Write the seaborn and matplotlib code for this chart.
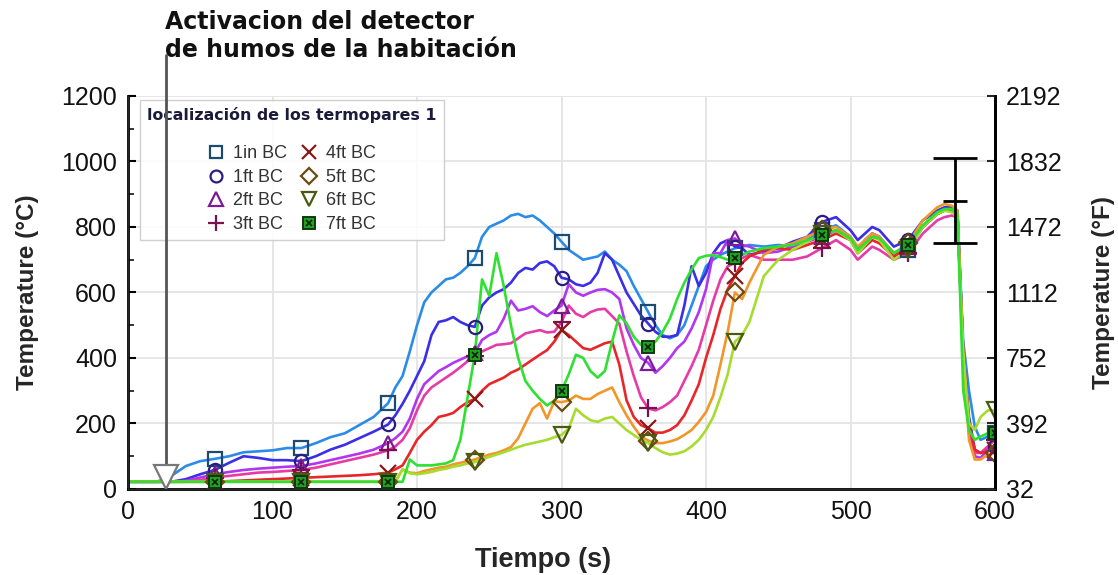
import numpy as np
import pandas as pd
import matplotlib
matplotlib.use("Agg")
import matplotlib.pyplot as plt
import seaborn as sns
from matplotlib.lines import Line2D
from matplotlib.ticker import MultipleLocator

# ---------------- data ----------------
time_s = [0, 10, 20, 30, 40, 50, 60, 70, 80, 90, 100, 110, 120, 130, 140, 150, 160, 170, 180,
          185, 190, 195, 200, 205, 210, 215, 220, 225, 230, 235, 240, 245, 250, 255, 260, 265, 270, 275, 280,
          285, 290, 295, 300, 305, 310, 315, 320, 325, 330, 335, 340, 345, 350, 355, 360, 365, 370, 375, 380,
          385, 390, 395, 400, 405, 410, 415, 420, 425, 430,
          440, 450, 460, 470, 480, 490, 500,
          505, 510, 515, 520,
          530, 540, 550, 560,
          565, 570, 574, 578, 582, 586, 590, 595, 600]

t_1in = [22, 22, 22, 40, 70, 85, 92, 100, 112, 115, 118, 125, 125, 140, 158, 170, 195, 220, 262,
         310, 345, 420, 500, 570, 600, 620, 640, 645, 660, 680, 705, 770, 800, 810, 820, 835, 840, 830, 835,
         820, 800, 780, 755, 730, 715, 700, 705, 710, 725, 700, 685, 665, 620, 580, 540, 500, 470, 460, 470,
         500, 560, 620, 680, 700, 715, 725, 735, 740, 745,
         740, 745, 740, 760, 790, 805, 770,
         735, 760, 780, 770,
         720, 730, 800, 840,
         850, 850, 840, 450, 300, 190, 150, 160, 170]

t_1ft = [22, 22, 22, 22, 30, 45, 58, 80, 100, 95, 88, 88, 85, 100, 120, 135, 155, 175, 197,
         225, 260, 300, 345, 390, 470, 510, 515, 525, 510, 500, 495, 560, 585, 600, 610, 630, 660, 675, 670,
         690, 695, 680, 645, 640, 625, 620, 630, 660, 720, 700, 650, 600, 565, 530, 505, 480, 465, 465, 470,
         560, 680, 620, 660, 720, 750, 760, 740, 735, 715,
         725, 735, 755, 770, 815, 830, 790,
         760, 780, 800, 790,
         740, 760, 820, 850,
         860, 860, 850, 420, 220, 120, 110, 120, 130]

t_2ft = [22, 22, 22, 22, 25, 35, 45, 52, 58, 62, 65, 68, 70, 78, 88, 98, 108, 120, 140,
         155, 175, 215, 275, 320, 340, 360, 372, 385, 395, 405, 415, 455, 470, 480, 520, 575, 545, 550, 558,
         540, 528, 545, 560, 625, 600, 590, 600, 608, 610, 600, 580, 490, 440, 400, 385, 355, 375, 400, 430,
         450, 490, 540, 610, 720, 720, 760, 765, 745, 740,
         720, 725, 740, 755, 770, 790, 770,
         730, 760, 780, 770,
         710, 740, 800, 840,
         850, 850, 840, 400, 200, 100, 95, 120, 110]

t_3ft = [22, 22, 22, 22, 22, 28, 35, 40, 45, 50, 52, 55, 58, 65, 75, 85, 95, 105, 118,
         130, 150, 185, 240, 285, 310, 325, 340, 355, 372, 390, 405, 420, 430, 440, 442, 445, 460, 475, 480,
         485, 478, 480, 510, 560, 535, 525, 540, 548, 550, 528, 505, 420, 345, 280, 246, 240, 250, 265, 285,
         330, 375, 425, 500, 575, 640, 680, 690, 705, 715,
         700, 700, 700, 710, 735, 760, 730,
         700, 720, 740, 730,
         700, 720, 780, 820,
         830, 835, 830, 380, 180, 110, 110, 130, 150]

t_4ft = [22, 22, 22, 22, 22, 22, 22, 24, 26, 28, 30, 32, 34, 36, 38, 40, 42, 45, 50,
         60, 72, 110, 150, 175, 195, 220, 225, 232, 250, 265, 275, 300, 320, 330, 340, 355, 365, 380, 395,
         410, 424, 450, 485, 470, 450, 430, 425, 435, 445, 450, 380, 271, 220, 195, 185, 172, 172, 180, 195,
         225, 270, 320, 400, 470, 550, 610, 650, 690, 710,
         730, 735, 730, 745, 760, 780, 760,
         720, 740, 760, 750,
         710, 740, 800, 840,
         850, 850, 840, 420, 200, 120, 110, 115, 120]

t_5ft = [22, 22, 22, 22, 22, 22, 22, 22, 22, 22, 22, 22, 22, 22, 22, 22, 22, 22, 22,
         22, 60, 50, 48, 55, 60, 65, 68, 75, 80, 85, 90, 98, 105, 110, 118, 128, 155, 200, 245,
         262, 215, 268, 265, 270, 285, 275, 275, 290, 300, 310, 265, 225, 190, 160, 148, 140, 140, 145, 152,
         165, 180, 205, 235, 285, 380, 480, 600, 580, 630,
         715, 740, 750, 770, 790, 800, 770,
         740, 760, 780, 770,
         720, 750, 820, 860,
         870, 865, 850, 400, 150, 90, 90, 105, 110]

t_6ft = [22, 22, 22, 22, 22, 22, 22, 22, 22, 22, 22, 22, 22, 22, 22, 22, 22, 22, 22,
         22, 60, 48, 45, 48, 52, 58, 62, 68, 72, 78, 82, 90, 98, 105, 112, 120, 128, 135, 140,
         145, 150, 158, 165, 185, 245, 225, 210, 205, 215, 220, 200, 180, 165, 150, 140, 125, 112, 105, 108,
         115, 130, 150, 180, 220, 280, 350, 450, 470, 510,
         650, 700, 730, 755, 780, 790, 760,
         720, 745, 770, 760,
         700, 730, 800, 840,
         850, 845, 830, 420, 200, 180, 220, 240, 240]

t_7ft = [22, 22, 22, 22, 22, 22, 22, 22, 22, 22, 22, 22, 22, 22, 22, 22, 22, 22, 22,
         22, 22, 90, 72, 72, 72, 75, 78, 88, 150, 280, 410, 640, 590, 720, 620, 500, 400, 330, 300,
         275, 255, 270, 300, 350, 410, 400, 360, 340, 360, 450, 530, 506, 465, 440, 432, 450, 480, 520, 580,
         630, 670, 705, 712, 714, 708, 700, 704, 715, 725,
         735, 740, 745, 760, 775, 790, 765,
         730, 750, 770, 765,
         720, 745, 805, 845,
         855, 855, 840, 300, 180, 150, 160, 170, 170]

series_names = ["1in BC", "1ft BC", "2ft BC", "3ft BC", "4ft BC", "5ft BC", "6ft BC", "7ft BC"]
series_values = [t_1in, t_1ft, t_2ft, t_3ft, t_4ft, t_5ft, t_6ft, t_7ft]
marker_times = [60, 120, 180, 240, 300, 360, 420, 480, 540, 600]

x_ticks = [0, 100, 200, 300, 400, 500, 600]
y_ticks_c = [0, 200, 400, 600, 800, 1000, 1200]
y_ticks_f = [32, 392, 752, 1112, 1472, 1832, 2192]

detector_time = 26
detector_temp = 38
errbar_time = 572
errbar_center = 880
errbar_half = 130

# ---------------- styles ----------------
line_colors = ["#2b8ce8", "#3a2ee8", "#b236f0", "#e63aa8", "#e8262a", "#f0962a", "#a6dc2e", "#2ee030"]
marker_shapes = ["s", "o", "^", "+", "x", "D", "v", "s"]
marker_edges = ["#1d4a70", "#2a1c80", "#7a1c9a", "#7a1050", "#8a1818", "#6a4a10", "#4a5a10", "#0e3a0e"]
marker_sizes = [9.5, 9.5, 10.5, 13, 11, 9, 11, 9]

for name, vals in zip(series_names, series_values):
    assert len(vals) == len(time_s), (name, len(vals), len(time_s))

sns.set_style("white")
plt.rcParams["font.family"] = ["Liberation Sans", "DejaVu Sans"]

df = pd.DataFrame({
    "Tiempo": np.tile(time_s, len(series_names)),
    "Temp": np.concatenate(series_values),
    "Serie": np.repeat(series_names, len(time_s)),
})

fig = plt.figure(figsize=(11.18, 5.75), dpi=100)
ax = fig.add_axes([0.1145, 0.1496, 0.7755, 0.6835])

sns.lineplot(data=df, x="Tiempo", y="Temp", hue="Serie", hue_order=series_names,
             palette=dict(zip(series_names, line_colors)), estimator=None, sort=False,
             linewidth=1.9, legend=False, ax=ax)

# markers
for i, name in enumerate(series_names):
    sub = df[(df["Serie"] == name) & (df["Tiempo"].isin(marker_times))]
    if i == 7:
        ax.plot(sub["Tiempo"], sub["Temp"], ls="none", marker="s", ms=marker_sizes[i],
                mfc="#22a022", mec=marker_edges[i], mew=1.4, zorder=5)
        ax.plot(sub["Tiempo"], sub["Temp"], ls="none", marker="x", ms=5,
                mec="#0a200a", mew=1.2, zorder=6)
    else:
        ax.plot(sub["Tiempo"], sub["Temp"], ls="none", marker=marker_shapes[i], ms=marker_sizes[i],
                mfc="none", mec=marker_edges[i], mew=1.6, zorder=5)

# detector annotation
ax.axvline(detector_time, ymin=detector_temp / 1200 + 0.02, ymax=1.104, color="#555555", lw=2,
           clip_on=False, zorder=7)
ax.plot([detector_time], [detector_temp], ls="none", marker="v", ms=17, mfc="white",
        mec="#777777", mew=1.6, clip_on=False, zorder=8)
fig.text(165 / 1118, 1 - 10 / 575, "Activacion del detector\nde humos de la habitación",
         ha="left", va="top", fontsize=17, fontweight="bold", family="DejaVu Sans",
         color="#111111", linespacing=1.2)

# error bar
ax.errorbar([errbar_time], [errbar_center], yerr=[[errbar_half], [errbar_half]], fmt="_",
            color="black", ms=17, mew=2, elinewidth=2, capsize=16, capthick=2, zorder=9)

# axes
ax.set_xlim(0, 600)
ax.set_ylim(0, 1200)
ax.set_xticks(x_ticks)
ax.set_yticks(y_ticks_c)
ax.xaxis.set_minor_locator(MultipleLocator(20))
ax.yaxis.set_minor_locator(MultipleLocator(100))
ax.tick_params(which="major", direction="in", length=6, width=1.5, labelsize=18, pad=8,
               colors="black", labelcolor="#111111")
ax.tick_params(which="minor", direction="in", length=4, width=1.3)
ax.grid(True, which="major", color="#e4e4e4", lw=1.3)
ax.set_axisbelow(True)
for s in ["left", "bottom", "right"]:
    ax.spines[s].set_color("black")
    ax.spines[s].set_linewidth(2)
ax.spines["top"].set_visible(False)
ax.set_xlabel("Tiempo (s)", fontsize=19.5, fontweight="bold", labelpad=5)
ax.xaxis.set_label_coords(0.479, -0.147)
ax.set_ylabel("Temperature (°C)", fontsize=17.5, fontweight="bold", labelpad=16)

ax2 = ax.twinx()
ax2.set_ylim(0 * 1.8 + 32, 1200 * 1.8 + 32)
ax2.set_yticks(y_ticks_f)
ax2.tick_params(direction="in", length=6, width=1.5, labelsize=18, pad=8, labelcolor="#111111")
ax2.spines["top"].set_visible(False)
ax2.spines["right"].set_linewidth(2)
ax2.spines["right"].set_color("black")
ax2.set_ylabel("Temperature (°F)", fontsize=17.5, fontweight="bold", labelpad=22)

# legend
handles = []
for i, name in enumerate(series_names):
    if i == 7:
        h = (Line2D([], [], ls="none", marker="s", ms=9, mfc="#22a022", mec=marker_edges[i], mew=1.4),
             Line2D([], [], ls="none", marker="x", ms=5, mec="#0a200a", mew=1.2))
    else:
        h = Line2D([], [], ls="none", marker=marker_shapes[i], ms=marker_sizes[i] * 0.9, mfc="none",
                   mec=marker_edges[i], mew=1.6)
    handles.append(h)

leg = ax.legend(handles, series_names, ncol=2, loc="upper left", bbox_to_anchor=(0.0138, 0.99),
                borderaxespad=0,
                title="localización de los termopares 1",
                title_fontproperties={"weight": "bold", "family": "DejaVu Sans", "size": 11.4},
                prop={"size": 13}, frameon=True, fancybox=False, edgecolor="#c8c8c8",
                framealpha=0.85, handlelength=0.9, handletextpad=0.45, columnspacing=0.8,
                labelspacing=0.36, borderpad=0.4, labelcolor="#333333")
leg.get_title().set_color("#1a1a3a")
leg._legend_box.sep = 16
leg.set_zorder(6)

fig.savefig("out.png", dpi=100)
